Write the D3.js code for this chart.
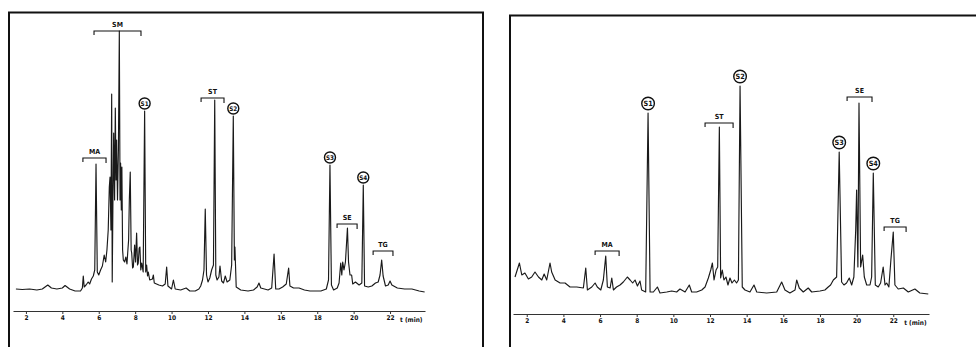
<!DOCTYPE html>
<html><head><meta charset="utf-8">
<script src="https://cdn.jsdelivr.net/npm/d3@7"></script>
<style>
body{margin:0;background:#fff}
svg{display:block}
text{font-family:"DejaVu Sans Condensed","DejaVu Sans",sans-serif;fill:#111}
</style>
</head><body>
<svg id="c" width="976" height="347"></svg>
<script>
// ---- data (retention time in min, detector signal in arbitrary units) ----
const tickValues = [2, 4, 6, 8, 10, 12, 14, 16, 18, 20, 22];
const tickLabels = ["2", "4", "6", "8", "10", "12", "14", "16", "18", "20", "22"];
const axisTitle = "t (min)";

const leftTrace = [
  [1.45,3],[1.8,2.5],[2.2,3],[2.6,2],[2.9,3],[3.2,7],[3.4,4],[3.7,3],[4.0,4],[4.15,6.5],[4.4,3],[4.7,1],[5.0,1],
  [5.1,4],[5.15,16],[5.2,5],[5.3,7],[5.42,10],[5.5,8],[5.6,13],[5.7,16],[5.78,22],[5.85,128],[5.92,20],[6.0,17],
  [6.1,22],[6.2,26],[6.3,37],[6.38,30],[6.45,42],[6.52,62],[6.58,105],[6.62,115],[6.67,62],[6.71,198],[6.74,10],
  [6.78,92],[6.82,159],[6.87,92],[6.91,184],[6.95,112],[6.98,152],[7.03,92],[7.08,142],[7.13,261],[7.17,92],
  [7.20,129],[7.24,82],[7.27,125],[7.31,42],[7.35,32],[7.42,30],[7.49,35],[7.55,28],[7.59,39],[7.64,52],[7.68,92],
  [7.73,120],[7.78,42],[7.81,39],[7.86,24],[7.90,25],[7.94,37],[7.97,47],[8.02,30],[8.08,59],[8.13,27],[8.17,29],
  [8.22,44],[8.26,45],[8.31,22],[8.36,29],[8.44,20],[8.52,181],[8.58,20],[8.63,27],[8.68,16],[8.72,20],[8.8,12],
  [8.95,13],[9.0,17],[9.05,9],[9.3,7],[9.5,6],[9.65,8],[9.73,25],[9.8,6],[10.0,3],[10.1,12],[10.2,3],[10.5,2],
  [10.8,4],[11.0,1],[11.3,1],[11.5,3],[11.6,6],[11.7,12],[11.78,22],[11.85,83],[11.92,17],[12.0,10],[12.1,14],
  [12.2,22],[12.3,27],[12.37,192],[12.43,17],[12.5,12],[12.6,15],[12.66,26],[12.75,11],[12.85,9],[12.95,16],
  [13.05,10],[13.2,12],[13.3,27],[13.39,176],[13.45,32],[13.48,45],[13.55,5],[13.8,2],[14.2,1],[14.5,2],[14.7,5],
  [14.8,9],[14.9,4],[15.1,3],[15.3,2],[15.5,4],[15.63,38],[15.72,3],[15.9,3],[16.1,5],[16.3,8],[16.43,24],[16.5,6],
  [16.7,4],[17.0,4],[17.3,2],[17.6,1],[17.9,1],[18.2,1],[18.5,3],[18.62,12],[18.70,127],[18.78,7],[18.9,2],
  [19.1,4],[19.2,9],[19.29,29],[19.35,17],[19.4,30],[19.47,22],[19.55,30],[19.66,64],[19.72,30],[19.8,17],
  [19.89,17],[19.95,8],[20.1,10],[20.3,7],[20.45,9],[20.53,107],[20.6,6],[20.8,5],[21.0,6],[21.2,9],[21.35,10],
  [21.45,17],[21.54,32],[21.62,16],[21.75,6],[21.9,7],[22.0,11],[22.1,7],[22.4,4],[22.8,3],[23.2,3],[23.6,1],[23.9,0]
];

const rightTrace = [
  [1.36,17],[1.6,31],[1.73,19],[1.9,21],[2.09,15],[2.27,17],[2.45,22],[2.64,17],[2.82,14],[2.95,20],[3.09,14],
  [3.27,31],[3.36,22],[3.55,14],[3.82,11],[4.09,11],[4.36,7],[4.73,7],[5.09,6],[5.22,26],[5.31,4],[5.55,7],
  [5.73,11],[5.85,7],[6.04,4],[6.18,14],[6.31,38],[6.4,7],[6.55,6],[6.64,16],[6.73,4],[6.9,7],[7.09,9],[7.27,12],
  [7.49,17],[7.64,14],[7.78,11],[7.91,14],[8.04,8],[8.18,13],[8.27,4],[8.49,2],[8.62,181],[8.73,2],[8.91,2],
  [9.13,7],[9.27,1],[9.64,2],[9.91,3],[10.18,2],[10.36,5],[10.64,2],[10.87,9],[11.0,2],[11.27,2],[11.55,4],
  [11.73,7],[11.91,16],[12.04,24],[12.13,31],[12.22,14],[12.33,24],[12.42,27],[12.51,167],[12.58,16],[12.67,24],
  [12.76,14],[12.87,17],[12.98,9],[13.09,16],[13.2,11],[13.33,14],[13.45,11],[13.55,14],[13.64,208],[13.76,7],
  [13.91,4],[14.18,2],[14.4,9],[14.55,2],[15.09,1],[15.64,2],[15.91,12],[16.09,4],[16.36,1],[16.64,4],[16.73,14],
  [16.87,6],[17.09,2],[17.36,6],[17.55,2],[18.0,3],[18.27,4],[18.45,7],[18.58,9],[18.73,14],[18.91,17],[19.05,142],
  [19.18,12],[19.31,9],[19.45,11],[19.6,16],[19.73,9],[19.85,17],[19.95,64],[20.0,104],[20.07,27],[20.13,191],
  [20.22,27],[20.33,39],[20.42,17],[20.55,9],[20.73,9],[20.82,17],[20.91,121],[21.02,9],[21.18,7],[21.31,11],
  [21.45,27],[21.55,9],[21.64,11],[21.76,7],[21.87,34],[22.0,62],[22.09,9],[22.27,5],[22.55,6],[22.82,2],
  [23.18,5],[23.45,1],[23.91,0]
];

const leftGroups = [
  {label: "SM", t0: 5.74, t1: 8.32, level: 261},
  {label: "MA", t0: 5.13, t1: 6.40, level: 134},
  {label: "ST", t0: 11.62, t1: 12.88, level: 194},
  {label: "SE", t0: 19.09, t1: 20.19, level: 68},
  {label: "TG", t0: 21.07, t1: 22.16, level: 41}
];
const rightGroups = [
  {label: "MA", t0: 5.73, t1: 7.04, level: 43},
  {label: "ST", t0: 11.73, t1: 13.26, level: 171},
  {label: "SE", t0: 19.48, t1: 20.84, level: 197},
  {label: "TG", t0: 21.50, t1: 22.70, level: 67}
];
const leftStandards = [
  {label: "S1", t: 8.52}, {label: "S2", t: 13.39}, {label: "S3", t: 18.70}, {label: "S4", t: 20.53}
];
const rightStandards = [
  {label: "S1", t: 8.62}, {label: "S2", t: 13.64}, {label: "S3", t: 19.05}, {label: "S4", t: 20.91}
];

// ---- drawing ----
const svg = d3.select("#c");

function drawPanel(cfg) {
  const g = svg.append("g");
  const x = d3.scaleLinear().domain(cfg.xDomain).range(cfg.xRange);
  const y = d3.scaleLinear().domain([0, 262]).range(cfg.yRange);

  // frame
  g.append("path").attr("d", cfg.frame).attr("fill", "none")
    .attr("stroke", "#111").attr("stroke-width", cfg.frameWidth);

  // axis
  const ax = d3.axisBottom(x).tickValues(tickValues)
    .tickFormat((d, i) => tickLabels[i]).tickSize(3).tickPadding(1.5).tickSizeOuter(0);
  const axg = g.append("g").attr("transform", `translate(0,${cfg.axisY})`).call(ax);
  axg.select(".domain").attr("stroke", "#333").attr("stroke-width", 1.2);
  axg.selectAll(".tick line").attr("stroke", "#333");
  axg.selectAll(".tick text").attr("font-size", 6.5).attr("font-weight", "bold")
    .style("font-family", '"DejaVu Sans Condensed","DejaVu Sans",sans-serif').attr("fill", "#111");
  g.append("text").attr("x", x(cfg.titleT)).attr("y", cfg.axisY + 10.5)
    .attr("font-size", 6.5).attr("font-weight", "bold").text(axisTitle);

  // trace
  const line = d3.line().x(d => x(d[0])).y(d => y(d[1]));
  g.append("path").datum(cfg.trace).attr("d", line).attr("fill", "none")
    .attr("stroke", "#1a1a1a").attr("stroke-width", 1.15).attr("stroke-linejoin", "round");

  // brackets
  cfg.groups.forEach(gr => {
    const yy = y(gr.level), x0 = x(gr.t0), x1 = x(gr.t1);
    g.append("path").attr("d", `M${x0},${yy + 4}V${yy}H${x1}V${yy + 5}`)
      .attr("fill", "none").attr("stroke", "#111").attr("stroke-width", 1.1);
    g.append("text").attr("x", (x0 + x1) / 2).attr("y", yy - 4)
      .attr("text-anchor", "middle").attr("font-size", 7).attr("font-weight", "bold").text(gr.label);
  });

  // internal standards
  cfg.standards.forEach(s => {
    const apex = cfg.trace.reduce((a, b) => Math.abs(b[0] - s.t) < Math.abs(a[0] - s.t) ? b : a);
    const cx = x(apex[0]), cy = y(apex[1]) - cfg.circleOffset;
    g.append("circle").attr("cx", cx).attr("cy", cy).attr("r", cfg.r)
      .attr("fill", "#fff").attr("stroke", "#111").attr("stroke-width", 1.4);
    g.append("text").attr("x", cx).attr("y", cy + 2.3).attr("text-anchor", "middle")
      .attr("font-size", cfg.r * 1.15).attr("font-weight", "bold").text(s.label);
  });
}

drawPanel({
  trace: leftTrace, groups: leftGroups, standards: leftStandards,
  xDomain: [1.29, 23.92], xRange: [13, 425], yRange: [292, 30],
  axisY: 311, titleT: 22.55, r: 5.5, circleOffset: 7.5,
  frame: "M9,347V12.5H483V347", frameWidth: 2
});
drawPanel({
  trace: rightTrace, groups: rightGroups, standards: rightStandards,
  xDomain: [1.25, 23.95], xRange: [513, 929], yRange: [294, 32],
  axisY: 314, titleT: 22.6, r: 6.3, circleOffset: 9.5,
  frame: "M510,347V15.5H976", frameWidth: 2
});
</script>
</body></html>
